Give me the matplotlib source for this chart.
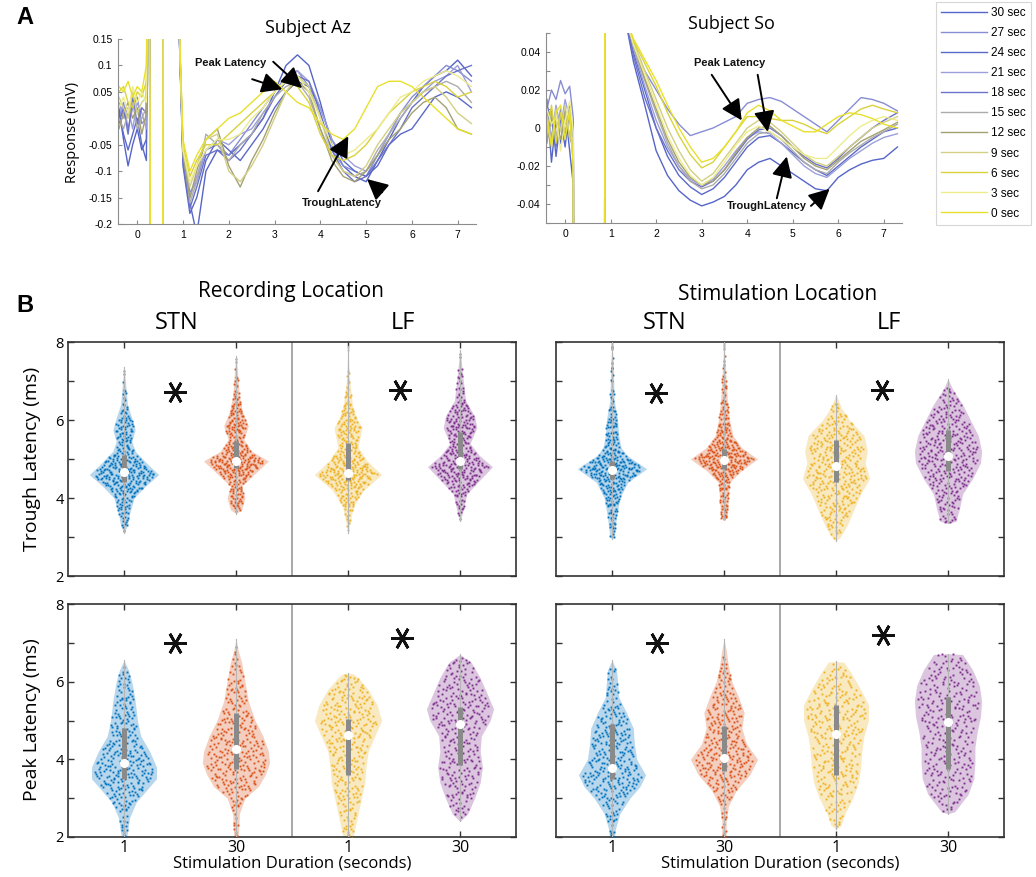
import numpy as np
import matplotlib.pyplot as plt

plt.rcParams['font.family'] = ['Open Sans', 'DejaVu Sans']

# ---------------- panel A : evoked responses ----------------
durations = ['30 sec', '27 sec', '24 sec', '21 sec', '18 sec', '15 sec',
             '12 sec', '9 sec', '6 sec', '3 sec', '0 sec']
trace_colors = ['#5565c8', '#878dd3', '#5a69c9', '#9ca0da', '#6b72c9', '#acacac',
                '#a3a174', '#d3cf84', '#d9d23c', '#eeec8c', '#e8e02c']

# Subject Az
az_pre_t = [-0.4, -0.3, -0.2, -0.1, 0.0, 0.1, 0.2]
az_pulse_t = [0.25, 0.3, np.nan, 0.55, 0.58, np.nan]
az_pulse_v = [0.5, -0.5, np.nan, -0.5, 0.5, np.nan]
az_post_t = [0.87, 1.0, 1.15, 1.3, 1.5, 1.75, 2.0, 2.25, 2.5, 2.75, 3.0, 3.25, 3.5, 3.75,
             4.0, 4.25, 4.5, 4.75, 5.0, 5.25, 5.5, 5.75, 6.0, 6.25, 6.5, 6.75, 7.0, 7.3]
az_pre = [
    [0.02, -0.04, -0.09, -0.05, -0.02, -0.06, -0.04],
    [0.0, 0.03, -0.02, 0.02, 0.04, -0.01, 0.0],
    [0.01, -0.03, -0.06, -0.03, 0.0, -0.05, -0.08],
    [0.03, 0.0, 0.02, -0.02, 0.03, 0.01, -0.02],
    [-0.01, 0.02, -0.03, 0.04, -0.01, 0.02, 0.01],
    [0.0, -0.02, 0.01, 0.03, -0.02, 0.0, 0.02],
    [-0.02, 0.01, 0.03, 0.0, 0.02, -0.03, 0.01],
    [0.04, 0.02, 0.0, 0.05, 0.01, 0.03, 0.04],
    [0.05, 0.06, 0.03, 0.02, 0.05, 0.04, 0.07],
    [0.02, 0.04, 0.01, 0.06, 0.03, 0.05, 0.03],
    [0.06, 0.05, 0.07, 0.04, 0.06, 0.05, 0.10],
]
az_post = [
    [0.3, -0.08, -0.16, -0.22, -0.10, -0.06, -0.07, -0.05, -0.03, 0.00, 0.05, 0.10, 0.12, 0.10,
     0.03, -0.05, -0.09, -0.11, -0.12, -0.08, -0.04, 0.0, 0.03, 0.06, 0.08, 0.09, 0.11, 0.08],
    [0.3, -0.06, -0.14, -0.12, -0.06, -0.05, -0.07, -0.04, -0.01, 0.02, 0.05, 0.08, 0.09, 0.06,
     0.0, -0.06, -0.09, -0.10, -0.11, -0.07, -0.03, 0.01, 0.04, 0.06, 0.08, 0.10, 0.09, 0.07],
    [0.3, -0.09, -0.18, -0.15, -0.08, -0.04, -0.06, -0.08, -0.05, -0.02, 0.02, 0.05, 0.07, 0.06,
     0.02, -0.04, -0.08, -0.10, -0.11, -0.09, -0.05, -0.03, -0.02, 0.01, 0.04, 0.05, 0.04, 0.02],
    [0.3, -0.07, -0.15, -0.11, -0.06, -0.04, -0.05, -0.03, -0.02, 0.01, 0.04, 0.07, 0.09, 0.07,
     0.02, -0.04, -0.07, -0.09, -0.10, -0.07, -0.03, 0.01, 0.03, 0.05, 0.07, 0.08, 0.10, 0.05],
    [0.3, -0.08, -0.17, -0.13, -0.07, -0.06, -0.08, -0.06, -0.03, 0.0, 0.04, 0.07, 0.08, 0.07,
     0.01, -0.06, -0.10, -0.12, -0.11, -0.08, -0.05, -0.02, 0.02, 0.04, 0.06, 0.08, 0.09, 0.10],
    [0.3, -0.06, -0.16, -0.12, -0.03, -0.05, -0.08, -0.05, -0.03, 0.01, 0.04, 0.06, 0.07, 0.04,
     -0.02, -0.07, -0.10, -0.11, -0.10, -0.06, -0.03, 0.00, 0.03, 0.05, 0.06, 0.07, 0.06, 0.03],
    [0.3, -0.07, -0.15, -0.10, -0.04, -0.02, -0.09, -0.13, -0.08, -0.04, 0.01, 0.05, 0.07, 0.05,
     -0.02, -0.08, -0.11, -0.12, -0.10, -0.07, -0.04, -0.02, 0.01, 0.03, 0.04, 0.02, -0.02, -0.03],
    [0.3, -0.06, -0.13, -0.09, -0.04, -0.03, -0.10, -0.12, -0.09, -0.05, 0.0, 0.05, 0.08, 0.06,
     0.0, -0.07, -0.10, -0.11, -0.09, -0.05, -0.02, 0.01, 0.03, 0.05, 0.06, 0.04, 0.01, -0.01],
    [0.3, -0.05, -0.11, -0.08, -0.05, -0.05, -0.03, -0.01, 0.01, 0.03, 0.05, 0.07, 0.06, 0.03,
     -0.03, -0.07, -0.08, -0.07, -0.05, -0.02, 0.01, 0.03, 0.05, 0.06, 0.07, 0.06, 0.04, 0.05],
    [0.3, -0.06, -0.12, -0.09, -0.06, -0.04, -0.04, -0.03, 0.0, 0.02, 0.05, 0.07, 0.08, 0.05,
     0.0, -0.05, -0.07, -0.06, -0.04, -0.02, 0.01, 0.04, 0.05, 0.07, 0.08, 0.09, 0.08, 0.06],
    [0.3, -0.04, -0.10, -0.07, -0.04, -0.02, 0.0, 0.01, 0.03, 0.05, 0.07, 0.05, 0.03, 0.02,
     -0.01, -0.03, -0.04, -0.02, 0.02, 0.06, 0.07, 0.07, 0.06, 0.04, 0.02, 0.0, -0.02, -0.03],
]

# Subject So
so_pre_t = [-0.4, -0.3, -0.2, -0.1, 0.0, 0.1, 0.18]
so_pulse_t = [0.22, np.nan, 0.86, 0.88, np.nan]
so_pulse_v = [-0.5, np.nan, -0.5, 0.5, np.nan]
so_post_t = [1.3, 1.5, 1.75, 2.0, 2.25, 2.5, 2.75, 3.0, 3.25, 3.5, 3.75, 4.0, 4.25, 4.5,
             4.75, 5.0, 5.25, 5.5, 5.75, 6.0, 6.25, 6.5, 6.75, 7.0, 7.3]
so_pre = [
    [0.015, -0.018, 0.005, -0.008, 0.010, -0.012, -0.030],
    [0.010, 0.020, 0.015, 0.025, 0.018, 0.022, 0.005],
    [-0.005, 0.010, -0.015, 0.005, -0.010, 0.012, -0.020],
    [0.008, -0.005, 0.012, 0.000, 0.015, 0.005, -0.010],
    [0.012, 0.004, -0.010, 0.010, -0.004, 0.008, -0.015],
    [0.000, 0.008, -0.004, 0.006, -0.002, 0.010, -0.008],
    [-0.008, 0.005, 0.002, -0.006, 0.008, -0.004, -0.012],
    [0.006, -0.008, 0.010, -0.002, 0.012, -0.006, -0.005],
    [-0.004, 0.012, -0.008, 0.008, 0.002, 0.006, -0.018],
    [0.010, 0.002, 0.006, -0.012, 0.004, 0.014, -0.002],
    [0.004, -0.010, 0.008, 0.012, -0.006, 0.010, -0.022],
]
so_post = [
    [0.06, 0.035, 0.012, -0.012, -0.025, -0.033, -0.038, -0.041, -0.039, -0.036, -0.030, -0.022, -0.018,
     -0.016, -0.020, -0.024, -0.028, -0.032, -0.033, -0.026, -0.022, -0.019, -0.017, -0.016, -0.010],
    [0.06, 0.045, 0.030, 0.020, 0.010, 0.002, -0.004, -0.002, 0.000, 0.003, 0.006, 0.013, 0.015,
     0.016, 0.014, 0.010, 0.006, 0.002, -0.002, 0.004, 0.010, 0.016, 0.015, 0.013, 0.009],
    [0.06, 0.040, 0.020, 0.000, -0.015, -0.025, -0.031, -0.035, -0.032, -0.026, -0.018, -0.010, -0.005,
     -0.004, -0.008, -0.013, -0.018, -0.022, -0.025, -0.020, -0.015, -0.010, -0.006, -0.002, 0.000],
    [0.06, 0.042, 0.022, 0.004, -0.010, -0.020, -0.027, -0.030, -0.027, -0.020, -0.012, -0.005, -0.002,
     -0.003, -0.008, -0.014, -0.020, -0.024, -0.026, -0.021, -0.016, -0.012, -0.008, -0.005, -0.003],
    [0.06, 0.038, 0.016, 0.000, -0.012, -0.022, -0.028, -0.031, -0.028, -0.022, -0.014, -0.006, -0.001,
     0.000, -0.004, -0.010, -0.015, -0.019, -0.021, -0.016, -0.010, -0.005, 0.000, 0.004, 0.008],
    [0.06, 0.043, 0.025, 0.008, -0.008, -0.020, -0.028, -0.032, -0.030, -0.024, -0.016, -0.008, -0.003,
     -0.002, -0.006, -0.012, -0.018, -0.022, -0.024, -0.018, -0.013, -0.009, -0.005, -0.002, 0.002],
    [0.06, 0.044, 0.026, 0.010, -0.006, -0.018, -0.026, -0.030, -0.028, -0.022, -0.013, -0.005, 0.000,
     0.001, -0.004, -0.010, -0.016, -0.020, -0.022, -0.017, -0.012, -0.007, -0.004, -0.001, 0.003],
    [0.06, 0.045, 0.030, 0.015, 0.000, -0.012, -0.022, -0.028, -0.024, -0.016, -0.008, 0.000, 0.004,
     0.003, -0.002, -0.008, -0.014, -0.018, -0.020, -0.015, -0.010, -0.005, 0.000, 0.003, 0.006],
    [0.06, 0.046, 0.034, 0.022, 0.008, -0.004, -0.014, -0.021, -0.018, -0.010, -0.002, 0.006, 0.006,
     0.005, 0.004, 0.004, 0.002, -0.001, -0.003, 0.002, 0.006, 0.010, 0.012, 0.010, 0.008],
    [0.06, 0.044, 0.028, 0.012, -0.004, -0.016, -0.025, -0.030, -0.026, -0.018, -0.009, -0.002, 0.001,
     -0.002, -0.006, -0.010, -0.014, -0.016, -0.016, -0.010, -0.004, 0.001, 0.004, 0.006, 0.004],
    [0.06, 0.047, 0.036, 0.025, 0.012, 0.000, -0.010, -0.018, -0.016, -0.010, -0.002, 0.008, 0.012,
     0.009, 0.004, 0.001, -0.002, -0.002, 0.002, 0.006, 0.008, 0.007, 0.005, 0.002, 0.000],
]

# arrows (tail, tip) in data coordinates
az_peak_arrows = [((2.51, 0.074), (3.17, 0.055)), ((2.97, 0.107), (3.60, 0.057))]
az_trough_arrows = [((3.95, -0.138), (4.61, -0.034)), ((5.35, -0.140), (5.02, -0.115))]
so_peak_arrows = [((3.22, 0.028), (3.88, 0.004)), ((4.23, 0.028), (4.45, -0.002))]
so_trough_arrows = [((4.65, -0.037), (4.87, -0.015)), ((5.40, -0.041), (5.81, -0.032))]

# ---------------- panel B : violin profiles ----------------
# each violin: (latency levels, half width at that level), stats = (median, q1, q3)
violin_colors = ['#0072BD', '#D95319', '#EDB120', '#7E2F8E']
trough_rec = [
    ([3.1, 3.3, 3.6, 4.0, 4.3, 4.6, 4.9, 5.2, 5.45, 5.75, 6.05, 6.4, 6.9, 7.35],
     [0, 0.03, 0.05, 0.09, 0.19, 0.31, 0.2, 0.1, 0.07, 0.1, 0.07, 0.03, 0.015, 0]),
    ([3.6, 3.7, 4.0, 4.3, 4.6, 4.95, 5.2, 5.5, 5.85, 6.2, 6.6, 7.2, 7.65],
     [0, 0.05, 0.08, 0.05, 0.16, 0.29, 0.14, 0.07, 0.11, 0.06, 0.03, 0.015, 0]),
    ([3.1, 3.4, 3.8, 4.2, 4.6, 4.95, 5.3, 5.8, 6.1, 6.4, 7.0, 7.9],
     [0, 0.02, 0.05, 0.14, 0.3, 0.17, 0.09, 0.125, 0.07, 0.04, 0.015, 0]),
    ([3.4, 3.7, 4.1, 4.5, 4.8, 5.1, 5.4, 5.8, 6.1, 6.5, 7.0, 7.8],
     [0, 0.03, 0.06, 0.19, 0.29, 0.17, 0.09, 0.15, 0.13, 0.05, 0.03, 0]),
]
trough_rec_stats = [(4.67, 4.42, 5.1), (4.95, 4.78, 5.45), (4.65, 4.45, 5.4), (4.95, 4.75, 5.7)]
trough_stim = [
    ([2.95, 3.0, 3.5, 4.0, 4.4, 4.75, 5.1, 5.3, 5.6, 6.0, 6.5, 7.5, 8.0],
     [0, 0.02, 0.04, 0.07, 0.14, 0.31, 0.13, 0.08, 0.06, 0.05, 0.02, 0.01, 0]),
    ([3.45, 3.5, 4.0, 4.4, 4.7, 5.0, 5.3, 5.6, 6.0, 6.5, 7.0, 8.0],
     [0, 0.03, 0.04, 0.05, 0.155, 0.3, 0.155, 0.08, 0.05, 0.03, 0.02, 0]),
    ([2.9, 3.0, 3.3, 3.7, 4.1, 4.5, 4.9, 5.2, 5.6, 6.0, 6.3, 6.65],
     [0, 0.04, 0.1, 0.16, 0.22, 0.3, 0.26, 0.28, 0.25, 0.12, 0.05, 0]),
    ([3.35, 3.4, 3.7, 4.1, 4.5, 4.9, 5.2, 5.6, 6.0, 6.4, 6.8, 7.05],
     [0, 0.07, 0.1, 0.13, 0.22, 0.29, 0.3, 0.27, 0.2, 0.13, 0.04, 0]),
]
trough_stim_stats = [(4.73, 4.5, 4.95), (4.98, 4.75, 5.25), (4.82, 4.4, 5.5), (5.08, 4.7, 5.75)]
peak_rec = [
    ([1.9, 2.5, 2.9, 3.2, 3.5, 3.8, 4.2, 4.6, 5.0, 5.5, 6.0, 6.3, 6.55],
     [0.02, 0.05, 0.11, 0.2, 0.29, 0.29, 0.23, 0.15, 0.12, 0.1, 0.07, 0.04, 0]),
    ([1.9, 2.6, 3.0, 3.3, 3.6, 3.9, 4.2, 4.6, 5.0, 5.5, 6.0, 6.5, 6.8, 7.1],
     [0.02, 0.03, 0.08, 0.2, 0.26, 0.3, 0.29, 0.24, 0.17, 0.11, 0.08, 0.05, 0.02, 0]),
    ([1.95, 2.2, 2.6, 3.0, 3.4, 3.8, 4.2, 4.6, 5.0, 5.4, 5.8, 6.1, 6.2, 6.22],
     [0.04, 0.06, 0.09, 0.12, 0.15, 0.16, 0.18, 0.24, 0.3, 0.26, 0.18, 0.09, 0.05, 0]),
    ([2.4, 2.6, 3.0, 3.4, 3.8, 4.2, 4.6, 5.0, 5.3, 5.7, 6.1, 6.5, 6.7],
     [0, 0.07, 0.13, 0.18, 0.2, 0.18, 0.19, 0.27, 0.3, 0.24, 0.18, 0.1, 0]),
]
peak_rec_stats = [(3.9, 3.5, 4.8), (4.27, 3.75, 5.2), (4.62, 3.6, 5.05), (4.9, 3.85, 5.35)]
peak_stim = [
    ([1.9, 2.2, 2.6, 3.0, 3.3, 3.6, 4.0, 4.4, 4.8, 5.2, 5.6, 6.0, 6.3, 6.55],
     [0.02, 0.03, 0.07, 0.16, 0.25, 0.3, 0.22, 0.2, 0.19, 0.13, 0.06, 0.05, 0.04, 0]),
    ([1.9, 2.4, 2.8, 3.2, 3.6, 4.0, 4.4, 4.8, 5.2, 5.6, 6.0, 6.4, 6.8, 7.1],
     [0.02, 0.02, 0.04, 0.11, 0.23, 0.3, 0.2, 0.16, 0.18, 0.13, 0.07, 0.04, 0.02, 0]),
    ([2.2, 2.3, 2.6, 3.0, 3.4, 3.8, 4.2, 4.6, 5.0, 5.4, 5.8, 6.2, 6.5, 6.52],
     [0, 0.045, 0.08, 0.15, 0.2, 0.22, 0.23, 0.25, 0.29, 0.29, 0.22, 0.14, 0.07, 0]),
    ([2.6, 2.65, 2.8, 3.1, 3.5, 3.9, 4.3, 4.7, 5.1, 5.5, 5.9, 6.3, 6.7, 6.72],
     [0, 0.06, 0.1, 0.18, 0.23, 0.24, 0.24, 0.26, 0.29, 0.3, 0.28, 0.22, 0.13, 0]),
]
peak_stim_stats = [(3.78, 3.5, 4.9), (4.03, 3.7, 4.85), (4.65, 3.6, 5.4), (4.97, 3.75, 5.6)]
duration_labels = ['1', '30', '1', '30']


fig = plt.figure(figsize=(10.36, 8.77), dpi=100)
W, H = 1036.0, 877.0


def px_axes(x0, y0, x1, y1):
    return fig.add_axes([x0 / W, 1 - y1 / H, (x1 - x0) / W, (y1 - y0) / H])


def style_trace_axes(ax):
    for s in ('top', 'right'):
        ax.spines[s].set_visible(False)
    for s in ('left', 'bottom'):
        ax.spines[s].set_color('#8c8c8c')
        ax.spines[s].set_linewidth(0.8)
    ax.tick_params(direction='in', length=3, color='#8c8c8c', labelsize=7.5, pad=4)
    ax.set_xticks(range(8))
    for lab in ax.get_xticklabels() + ax.get_yticklabels():
        lab.set_family('Liberation Sans')


def draw_traces(ax, pre_t, pre, pulse_t, pulse_v, post_t, post):
    for i, name in enumerate(durations):
        t = pre_t + pulse_t + post_t
        v = pre[i] + pulse_v + post[i]
        ax.plot(t, v, color=trace_colors[i], lw=1.0, label=name)


def draw_arrows(ax, arrows):
    for tail, tip in arrows:
        ax.annotate('', xy=tip, xytext=tail,
                    arrowprops=dict(arrowstyle='-|>,head_length=0.9,head_width=0.45',
                                    color='k', lw=1.4, shrinkA=0, shrinkB=0, mutation_scale=14))


def latency_text(ax, x, y, s):
    ax.text(x, y, s, fontsize=8, fontweight='bold', family='Liberation Sans',
            ha='center', va='center', color='#111111')


axA1 = px_axes(118, 39, 476, 224)
draw_traces(axA1, az_pre_t, az_pre, az_pulse_t, az_pulse_v, az_post_t, az_post)
axA1.set_xlim(-0.42, 7.4)
axA1.set_ylim(-0.2, 0.15)
axA1.set_yticks([-0.2, -0.15, -0.1, -0.05, 0, 0.05, 0.1, 0.15])
axA1.set_yticklabels(['-0.2', '-0.15', '-0.1', '-0.05', '', '0.05', '0.1', '0.15'])
style_trace_axes(axA1)
draw_arrows(axA1, az_peak_arrows + az_trough_arrows)
latency_text(axA1, 2.03, 0.104, 'Peak Latency')
latency_text(axA1, 4.48, -0.160, 'TroughLatency')
axA1.set_title('Subject Az', fontsize=13, pad=4, x=0.53)
fig.text(73 / W, 1 - 132 / H, 'Response (mV)', rotation=90, fontsize=10.5, ha='center', va='center')

axA2 = px_axes(546, 33, 902, 223)
draw_traces(axA2, so_pre_t, so_pre, so_pulse_t, so_pulse_v, so_post_t, so_post)
axA2.set_xlim(-0.42, 7.4)
axA2.set_ylim(-0.05, 0.05)
axA2.set_yticks([-0.05, -0.04, -0.03, -0.02, -0.01, 0, 0.01, 0.02, 0.03, 0.04, 0.05])
axA2.set_yticklabels(['', '-0.04', '', '-0.02', '', '0', '', '0.02', '', '0.04', ''])
style_trace_axes(axA2)
draw_arrows(axA2, so_peak_arrows + so_trough_arrows)
latency_text(axA2, 3.62, 0.034, 'Peak Latency')
latency_text(axA2, 4.43, -0.041, 'TroughLatency')
axA2.set_title('Subject So', fontsize=13, pad=2, x=0.52)

handles, labels = axA1.get_legend_handles_labels()
leg = fig.legend(handles, labels, loc='upper left', bbox_to_anchor=(936 / W, 1 - 2 / H),
                 frameon=True, fancybox=False, edgecolor='#cccccc',
                 handlelength=3.9, handletextpad=0.3, labelspacing=0.68, borderpad=0.45,
                 borderaxespad=0, prop={'family': 'Liberation Sans', 'size': 8.5})
leg.get_frame().set_linewidth(0.8)


# ---------------- violins ----------------
def halton(idx, base):
    f, r = 1.0, 0.0
    while idx > 0:
        f /= base
        r += f * (idx % base)
        idx //= base
    return r


def draw_violin(ax, pos, profile, stats, color, n_dots, start):
    y = np.array(profile[0], dtype=float)
    w = np.array(profile[1], dtype=float)
    ax.fill_betweenx(y, pos - w, pos + w, color=color, alpha=0.28, lw=0, zorder=2)
    wmax = w.max()
    xs, ys = [], []
    i = start
    while len(xs) < n_dots:
        i += 1
        yy = y[0] + halton(i, 3) * (y[-1] - y[0])
        xx = (2 * halton(i, 2) - 1) * wmax
        if abs(xx) < 0.9 * np.interp(yy, y, w):
            xs.append(pos + xx)
            ys.append(yy)
    ax.plot(xs, ys, 's', ms=1.35, mew=0, color=color, zorder=3)
    ax.plot([pos, pos], [y[0], y[-1]], color='#b5b5b5', lw=0.8, zorder=3)
    med, q1, q3 = stats
    ax.plot([pos, pos], [q1, q3], color='#8a8a8a', lw=3.6, solid_capstyle='butt', zorder=4)
    ax.plot([pos], [med], 'o', ms=5.5, mfc='white', mec='white', zorder=5)


def style_violin_axes(ax, left_labels, bottom_labels):
    ax.set_xlim(0.5, 4.5)
    ax.set_ylim(2, 8)
    ax.set_xticks([1, 2, 3, 4])
    ax.set_yticks([2, 3, 4, 5, 6, 7, 8])
    ax.set_yticklabels(['2', '', '4', '', '6', '', '8'] if left_labels else [])
    ax.set_xticklabels(duration_labels if bottom_labels else [])
    ax.tick_params(direction='in', top=True, right=True, length=4, width=1,
                   color='#333333', labelsize=10.5, pad=3)
    ax.tick_params(axis='x', labelsize=11.5, pad=2)
    for s in ax.spines.values():
        s.set_color('#333333')
        s.set_linewidth(1.2)
    ax.axvline(2.5, color='#9a9a9a', lw=1.2, zorder=1)


panels = [
    ((68, 342, 516, 576), trough_rec, trough_rec_stats, True, False, 330, [(1.455, 6.72), (3.46, 6.77)]),
    ((556, 342, 1004, 576), trough_stim, trough_stim_stats, False, False, 330, [(1.39, 6.69), (3.41, 6.77)]),
    ((68, 604, 516, 837), peak_rec, peak_rec_stats, True, True, 300, [(1.455, 7.0), (3.48, 7.12)]),
    ((556, 604, 1004, 837), peak_stim, peak_stim_stats, False, True, 300, [(1.40, 7.0), (3.42, 7.2)]),
]
for k, (box, profiles, stats, left_lab, bottom_lab, n_dots, stars) in enumerate(panels):
    ax = px_axes(*box)
    for j in range(4):
        draw_violin(ax, j + 1, profiles[j], stats[j], violin_colors[j], n_dots, 37 * j + 1000 * k)
    style_violin_axes(ax, left_lab, bottom_lab)
    for sx, sy in stars:
        ax.plot([sx], [sy], ls='none', marker=(6, 2, 30), ms=16, mec='#111111', mew=2.0, zorder=6)
    if bottom_lab:
        ax.set_xlabel('Stimulation Duration (seconds)', fontsize=12, labelpad=0)

fig.text(32 / W, 1 - 459 / H, 'Trough Latency (ms)', rotation=90, fontsize=14, ha='center', va='center')
fig.text(32 / W, 1 - 720 / H, 'Peak Latency (ms)', rotation=90, fontsize=14, ha='center', va='center')

fig.text(291 / W, 1 - 292 / H, 'Recording Location', fontsize=15, ha='center', va='center')
fig.text(177 / W, 1 - 323 / H, 'STN', fontsize=17, ha='center', va='center')
fig.text(403 / W, 1 - 323 / H, 'LF', fontsize=17, ha='center', va='center')
fig.text(778 / W, 1 - 295 / H, 'Stimulation Location', fontsize=15, ha='center', va='center')
fig.text(665 / W, 1 - 323 / H, 'STN', fontsize=17, ha='center', va='center')
fig.text(889 / W, 1 - 323 / H, 'LF', fontsize=17, ha='center', va='center')

fig.text(25 / W, 1 - 18 / H, 'A', fontsize=17, fontweight='bold', family='Liberation Sans', ha='center', va='center')
fig.text(25 / W, 1 - 305 / H, 'B', fontsize=17, fontweight='bold', family='Liberation Sans', ha='center', va='center')

fig.savefig('out.png', dpi=100)
